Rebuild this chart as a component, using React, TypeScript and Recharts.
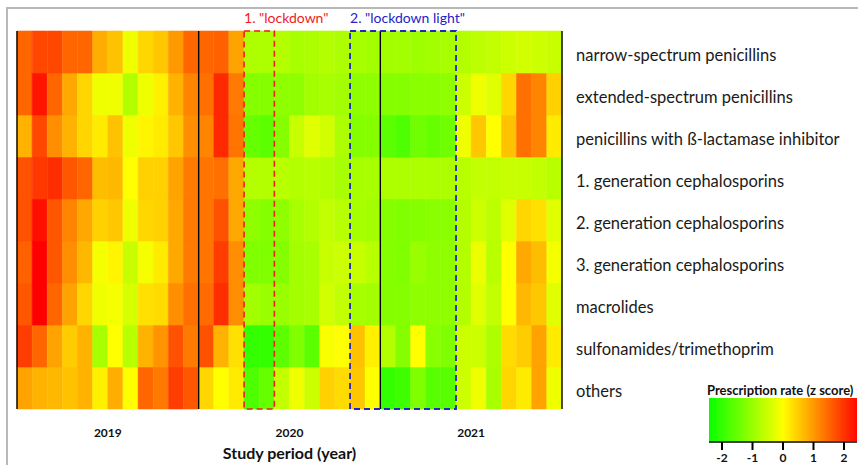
import { BarChart, Bar, Cell, XAxis, YAxis, ReferenceLine, ReferenceArea, Label } from 'recharts'

// colour scale: green (-) -> yellow (0) -> red (+)
const Z_MAX = 2.5
const FONT = 'Lato, "Open Sans", sans-serif'

const YEARS = ['2019', '2020', '2021']
const MONTH_NAMES = ['01', '02', '03', '04', '05', '06', '07', '08', '09', '10', '11', '12']
const MONTHS = YEARS.flatMap(y => MONTH_NAMES.map(m => `${y}-${m}`))

const ROW_LABELS = [
  'narrow-spectrum penicillins',
  'extended-spectrum penicillins',
  'penicillins with ß-lactamase inhibitor',
  '1. generation cephalosporins',
  '2. generation cephalosporins',
  '3. generation cephalosporins',
  'macrolides',
  'sulfonamides/trimethoprim',
  'others',
]

// z scores per month, 2019-01 .. 2021-12
const NARROW = [1.5, 1.8, 1.8, 1.5, 1.5, 0.8, 0.6, -0.15, 0.4, 0.55, 1.0, 1.5, 1.5, 1.55, 0.9, -0.8, -0.8, -0.75, -0.85, -0.8, -0.75, -0.8, -0.85, -0.9, -0.9, -0.9, -0.95, -0.9, -0.85, -0.75, -0.65, -0.6, -0.5, -0.45, -0.5, -0.55]
const EXTENDED = [1.5, 2.3, 1.5, 0.85, 0.4, -0.15, -0.15, -0.75, -0.15, 0.15, 0.75, 1.2, 1.4, 2.1, 1.3, -1.2, -1.2, -1.1, -1.1, -0.9, -0.85, -0.9, -1.1, -1.1, -1.2, -1.2, -1.15, -1.15, -1.1, -0.5, -0.15, -0.3, 0.4, 1.4, 1.2, 0.45]
const INHIBITOR = [0.75, 1.8, 1.1, 0.75, 0.4, 0.2, 0.6, -0.15, 0.1, 0.2, 0.55, 1.1, 1.2, 2.1, 1.35, -1.5, -1.6, -1.2, -0.55, -0.3, -0.45, -0.8, -1.2, -1.2, -1.6, -1.75, -1.4, -1.5, -1.4, -0.15, 0.55, 0.0, 0.6, 1.4, 1.2, 0.2]
const CEPH_1 = [1.7, 1.95, 2.05, 1.65, 1.5, 0.65, 0.7, 0.0, 0.45, 0.45, 0.9, 1.3, 1.35, 1.4, 0.85, -0.75, -0.75, -0.7, -0.75, -0.7, -0.75, -0.85, -0.85, -0.85, -0.8, -0.8, -0.8, -0.8, -0.8, -0.7, -0.6, -0.6, -0.55, -0.55, -0.6, -0.7]
const CEPH_2 = [1.7, 2.35, 1.65, 1.2, 0.85, 0.45, 0.55, -0.15, 0.4, 0.45, 0.85, 1.3, 1.35, 1.7, 0.85, -1.1, -1.2, -1.1, -0.85, -0.75, -0.6, -0.7, -0.85, -0.9, -1.2, -1.25, -1.2, -1.15, -1.15, -0.75, -0.5, -0.65, -0.3, 0.4, 0.3, -0.3]
const CEPH_3 = [1.55, 2.5, 1.65, 1.1, 0.7, -0.1, 0.1, -0.55, -0.1, 0.2, 0.85, 1.3, 1.35, 1.9, 1.1, -1.25, -1.25, -1.2, -0.9, -0.85, -0.55, -0.5, -0.55, -0.7, -1.2, -1.25, -1.0, -1.1, -1.1, -0.75, -0.2, -0.7, 0.0, 0.85, 0.65, -0.1]
const MACROLIDES = [1.65, 2.5, 1.5, 0.9, 0.4, -0.15, -0.1, -0.4, 0.3, 0.35, 1.1, 1.4, 1.45, 2.05, 1.1, -0.9, -1.0, -1.0, -0.9, -0.85, -0.45, -0.6, -0.85, -0.9, -1.2, -1.2, -1.1, -1.1, -1.1, -0.75, -0.3, -0.6, 0.0, 0.7, 0.55, -0.3]
const SULFONAMIDES = [1.9, 1.5, 0.9, 0.5, 0.75, -0.85, 0.0, -0.7, 0.75, 1.05, 1.7, 1.3, 1.7, 0.75, 0.3, -2.0, -2.0, -1.6, -1.25, -1.6, -0.05, 0.0, 0.6, 0.15, -0.75, -1.2, 0.0, -1.15, -1.25, -0.5, -0.5, -0.8, 0.35, 0.5, 0.9, 0.2]
const OTHERS = [0.9, 0.75, 0.7, 0.6, 0.75, 0.15, 0.8, 0.0, 1.5, 1.3, 1.9, 1.65, 0.4, 0.0, 0.2, -1.75, -1.5, -0.6, -0.15, -0.5, 0.45, 0.35, 0.55, 0.0, -2.0, -1.9, -1.25, -1.65, -1.65, -0.5, -0.15, -0.85, 0.4, 0.2, 0.9, -0.15]

const Z_ROWS = [NARROW, EXTENDED, INHIBITOR, CEPH_1, CEPH_2, CEPH_3, MACROLIDES, SULFONAMIDES, OTHERS]

// year blocks start at these months; labels sit at mid-year
const YEAR_STARTS = ['2019-01', '2020-01', '2021-01']
const YEAR_MID_TICKS = ['2019-07', '2020-07', '2021-07']
const LAST_MONTH = '2021-12'
const LOCKDOWN_1 = ['2020-04', '2020-05']
const LOCKDOWN_2 = ['2020-11', '2021-05']
const LEGEND_TICKS = [-2, -1, 0, 1, 2]

const ROW_TICKS = ROW_LABELS.map((_, i) => i + 0.5)

function zColor(z: number) {
  const t = Math.max(-1, Math.min(1, z / Z_MAX))
  const r = t < 0 ? Math.round(255 * (1 + t)) : 255
  const g = t > 0 ? Math.round(255 * (1 - t)) : 255
  return `rgb(${r},${g},0)`
}

const rowKey = (i: number) => `r${i}`

const data = MONTHS.map(month => {
  const d: Record<string, string | number> = { month }
  ROW_LABELS.forEach((_, i) => { d[rowKey(i)] = 1 })
  return d
})

const boxLabel = (text: string, color: string) => (props: any) => {
  const vb = props.viewBox
  return (
    <text x={vb.x} y={vb.y - 8} fill={color} fontSize={14} fontFamily={FONT}>{text}</text>
  )
}

// legend geometry
const LEG_X0 = 783
const LEG_UNIT = 30.5
const LEG_LEFT = 709
const LEG_RIGHT = 857

function ColorLegend() {
  const zl = (LEG_LEFT - LEG_X0) / LEG_UNIT
  const zr = (LEG_RIGHT - LEG_X0) / LEG_UNIT
  return (
    <svg width={858} height={465} style={{ position: 'absolute', left: 0, top: 0, pointerEvents: 'none' }}>
      <defs>
        <linearGradient id="zgrad" x1="0" x2="1" y1="0" y2="0">
          <stop offset="0" stopColor={zColor(zl)} />
          <stop offset={String(-zl / (zr - zl))} stopColor={zColor(0)} />
          <stop offset="1" stopColor={zColor(zr)} />
        </linearGradient>
      </defs>
      <text x={707} y={395} fontSize={13} fontWeight="bold" fill="#111" fontFamily={FONT}>Prescription rate (z score)</text>
      <rect x={LEG_LEFT} y={398} width={LEG_RIGHT - LEG_LEFT} height={43} fill="url(#zgrad)" />
      <line x1={LEG_LEFT} x2={LEG_RIGHT} y1={442} y2={442} stroke="#000" strokeWidth={1.5} />
      {LEGEND_TICKS.map(t => (
        <g key={t}>
          <line x1={LEG_X0 + t * LEG_UNIT} x2={LEG_X0 + t * LEG_UNIT} y1={442} y2={450} stroke="#000" strokeWidth={2} />
          <text x={LEG_X0 + t * LEG_UNIT} y={462} textAnchor="middle" fontSize={12} fontWeight="bold" fill="#111" fontFamily={FONT}>{t}</text>
        </g>
      ))}
    </svg>
  )
}

const boxProps = {
  y1: 0,
  y2: 9,
  fill: 'none',
  fillOpacity: 0,
  strokeDasharray: '6 4',
  zIndex: 1000,
  ifOverflow: 'visible' as const,
}

export default function App() {
  return (
    <div style={{ position: 'absolute', left: 0, top: 0, width: 858, height: 465, overflow: 'hidden', background: '#fff' }}>
      <div style={{ position: 'absolute', left: 6, top: 7, width: 900, height: 500, borderLeft: '2px solid #b8b8b8', borderTop: '2px solid #b8b8b8' }} />
      <div style={{ position: 'absolute', left: 0, top: 0 }}>
        <BarChart width={858} height={465} data={data} margin={{ top: 31, right: 0, bottom: 0, left: 17 }} barCategoryGap={0} barGap={0}>
          <XAxis
            dataKey="month"
            ticks={YEAR_MID_TICKS}
            interval={0}
            tickFormatter={(v: string) => v.slice(0, 4)}
            axisLine={false}
            tickLine={false}
            height={56}
            tickMargin={13}
            tick={{ fill: '#111', fontSize: 12, fontWeight: 'bold', fontFamily: FONT, dx: -7.6 }}
          >
            <Label value="Study period (year)" position="insideBottom" offset={6} fill="#111" fontSize={16} fontWeight="bold" fontFamily={FONT} />
          </XAxis>
          <YAxis
            orientation="right"
            type="number"
            domain={[0, 9]}
            ticks={ROW_TICKS}
            tickFormatter={(v: number) => ROW_LABELS[8 - Math.floor(v)]}
            axisLine={false}
            tickLine={false}
            width={296}
            tickMargin={8}
            tick={{ fill: '#1a1a1a', fontSize: 16.5, fontFamily: FONT, dy: 3 }}
          />
          {ROW_LABELS.map((_, i) => ROW_LABELS.length - 1 - i).map(r => (
            <Bar key={r} dataKey={rowKey(r)} stackId="heat" isAnimationActive={false}>
              {Z_ROWS[r].map((z, c) => (
                <Cell key={c} fill={zColor(z)} stroke={zColor(z)} strokeWidth={0.6} />
              ))}
            </Bar>
          ))}
          {YEAR_STARTS.map(m => (
            <ReferenceLine key={m} x={m} position="start" stroke="#000" strokeWidth={1.4} />
          ))}
          <ReferenceLine x={LAST_MONTH} position="end" stroke="#000" strokeWidth={1.4} />
          <ReferenceArea
            {...boxProps}
            x1={LOCKDOWN_1[0]}
            x2={LOCKDOWN_1[1]}
            stroke="#f01c1c"
            strokeWidth={1.6}
            label={boxLabel('1. "lockdown"', '#f01c1c')}
          />
          <ReferenceArea
            {...boxProps}
            x1={LOCKDOWN_2[0]}
            x2={LOCKDOWN_2[1]}
            stroke="#2323c8"
            strokeWidth={1.8}
            label={boxLabel('2. "lockdown light"', '#2323c8')}
          />
        </BarChart>
      </div>
      <ColorLegend />
    </div>
  )
}
